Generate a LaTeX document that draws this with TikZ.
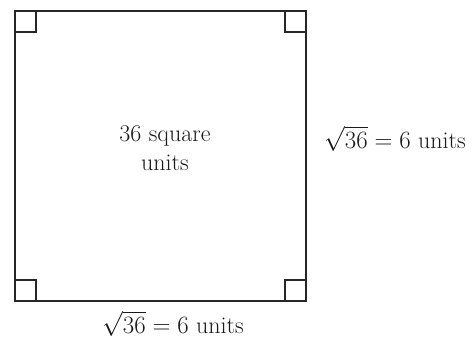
\documentclass[tikz,border=0pt]{standalone}
\begin{document}
\begin{tikzpicture}[x=1pt,y=-1pt,
  edge/.style={draw=black!85,line width=1.1pt},
  lbl/.style={font=\fontsize{24}{29}\selectfont,text=black!90,inner sep=0pt}]
\useasboundingbox (0,0) rectangle (474,345);
\coordinate (tl) at (15,11);
\coordinate (tr) at (306,11);
\coordinate (br) at (306,301);
\coordinate (bl) at (15,301);
\draw[edge] (tl) -- (tr) -- (br) -- (bl) -- cycle;
% right-angle marks
\draw[edge] ([xshift=21pt]tl) -- ++(0,21) -- ++(-21,0);
\draw[edge] ([xshift=-21pt]tr) -- ++(0,21) -- ++(21,0);
\draw[edge] ([xshift=21pt]bl) -- ++(0,-21) -- ++(-21,0);
\draw[edge] ([xshift=-21pt]br) -- ++(0,-21) -- ++(21,0);
\node[lbl,align=center] (area) at (165,148) {36 square\\units};
\node[lbl,anchor=base west] (side) at (324,148) {$\sqrt{36}=6$ units};
\node[lbl,anchor=base] (bottom) at (173,333) {$\sqrt{36}=6$ units};
\end{tikzpicture}
\end{document}
